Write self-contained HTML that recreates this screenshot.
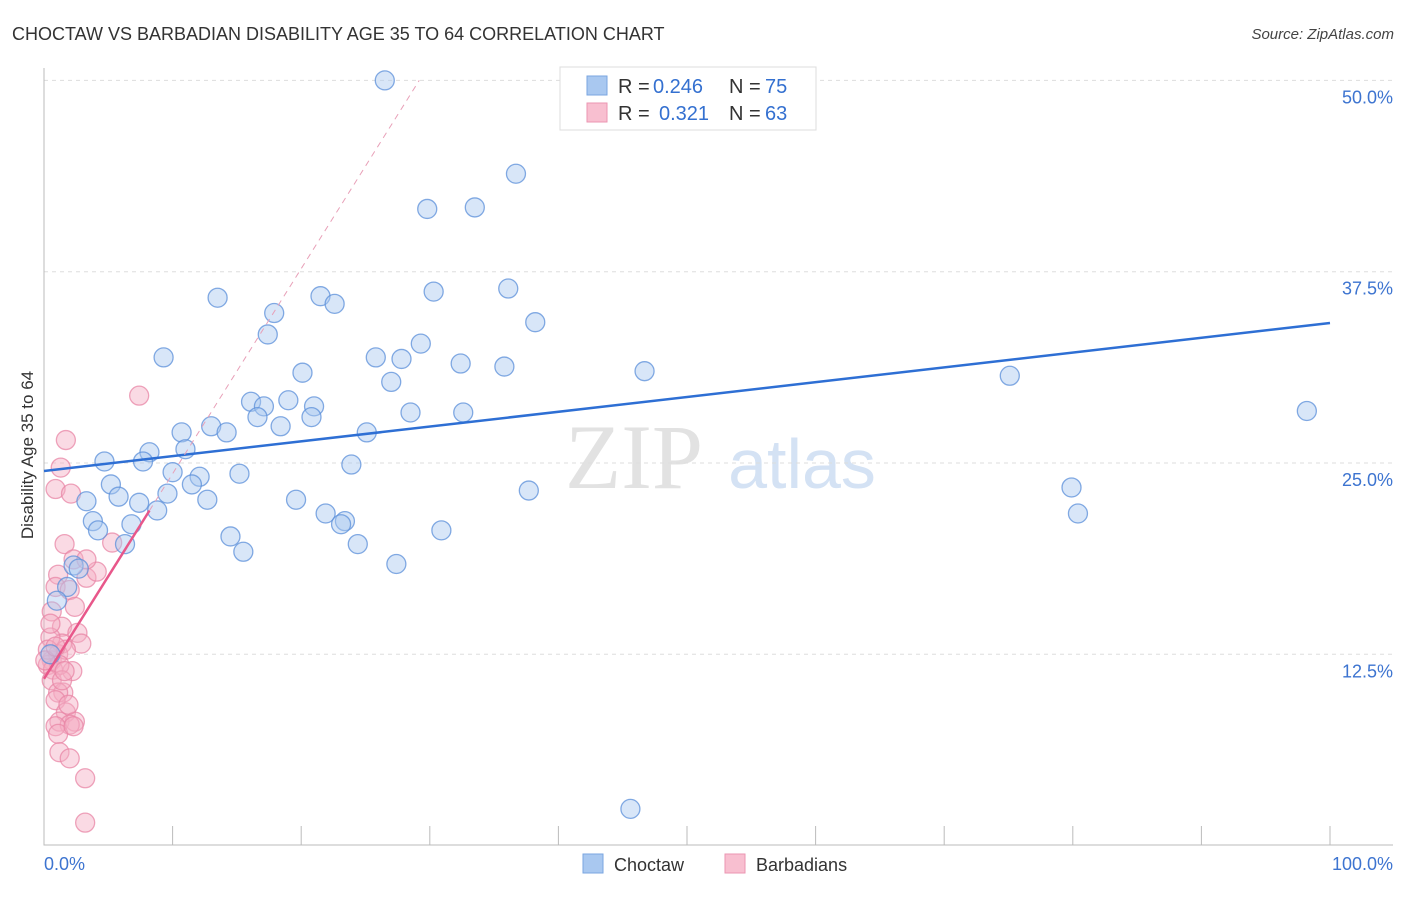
<!DOCTYPE html>
<html><head><meta charset="utf-8"><style>
body{margin:0;background:#fff;font-family:"Liberation Sans",sans-serif}
</style></head><body>
<svg width="1406" height="892" viewBox="0 0 1406 892" xmlns="http://www.w3.org/2000/svg" font-family="Liberation Sans, sans-serif">
<text x="12" y="40" font-size="18" fill="#333">CHOCTAW VS BARBADIAN DISABILITY AGE 35 TO 64 CORRELATION CHART</text>
<text x="1394" y="39" font-size="15" fill="#444" text-anchor="end" font-style="italic">Source: ZipAtlas.com</text>
<g>
<text x="634" y="488" font-size="92" font-family="Liberation Serif, serif" fill="#e2e2e2" text-anchor="middle">ZIP</text>
<text x="802" y="488" font-size="70" fill="#d4e2f4" text-anchor="middle">atlas</text>
</g>
<g id="grid"></g>
<g id="axes"></g>
<g id="marks"></g>
<g>
<rect x="560" y="67" width="256" height="63" fill="#fff" stroke="#ddd"/>
<rect x="587" y="76" width="20" height="19" fill="#a9c8f0" stroke="#7aa6e0"/>
<rect x="587" y="103" width="20" height="19" fill="#f8bfd0" stroke="#eb96b2"/>
<text x="618" y="93" font-size="20" fill="#333">R =</text>
<text x="653" y="93" font-size="20" fill="#3470d0">0.246</text>
<text x="729" y="93" font-size="20" fill="#333">N =</text>
<text x="765" y="93" font-size="20" fill="#3470d0">75</text>
<text x="618" y="120" font-size="20" fill="#333">R =</text>
<text x="659" y="120" font-size="20" fill="#3470d0">0.321</text>
<text x="729" y="120" font-size="20" fill="#333">N =</text>
<text x="765" y="120" font-size="20" fill="#3470d0">63</text>
</g>
<text transform="translate(33,455) rotate(-90)" font-size="17" fill="#333" text-anchor="middle">Disability Age 35 to 64</text>
<text x="44" y="870" font-size="18" fill="#3d74d0">0.0%</text>
<text x="1393" y="870" font-size="18" fill="#3d74d0" text-anchor="end">100.0%</text>
<g>
<rect x="583" y="854" width="20" height="19" fill="#a9c8f0" stroke="#7aa6e0"/>
<text x="614" y="871" font-size="18" fill="#333">Choctaw</text>
<rect x="725" y="854" width="20" height="19" fill="#f8bfd0" stroke="#eb96b2"/>
<text x="756" y="871" font-size="18" fill="#333">Barbadians</text>
</g>
</svg>
<script>
const yTicks=[12.5,25,37.5,50];
const yTickLabels=["12.5%","25.0%","37.5%","50.0%"];
const xTicks=[0,10,20,30,40,50,60,70,80,90,100];
const choctawX=[26.5,36.7,29.8,33.5,13.5,21.5,22.6,30.3,36.1,17.9,38.2,17.4,29.3,9.3,25.8,27.8,32.4,35.8,20.1,46.7,27.0,75.1,16.1,17.1,19.0,21.0,28.5,32.6,98.2,16.6,20.8,13.0,18.4,10.7,14.2,25.1,8.2,11.0,4.7,7.7,23.9,10.0,12.1,15.2,5.2,11.5,3.3,5.8,7.4,9.6,12.7,19.6,37.7,79.9,8.8,3.8,6.8,21.9,23.4,23.1,80.4,4.2,30.9,14.5,6.3,24.4,15.5,27.4,2.3,2.7,1.8,1.0,0.5,45.6];
const choctawY=[50.0,43.9,41.6,41.7,35.8,35.9,35.4,36.2,36.4,34.8,34.2,33.4,32.8,31.9,31.9,31.8,31.5,31.3,30.9,31.0,30.3,30.7,29.0,28.7,29.1,28.7,28.3,28.3,28.4,28.0,28.0,27.4,27.4,27.0,27.0,27.0,25.7,25.9,25.1,25.1,24.9,24.4,24.1,24.3,23.6,23.6,22.5,22.8,22.4,23.0,22.6,22.6,23.2,23.4,21.9,21.2,21.0,21.7,21.2,21.0,21.7,20.6,20.6,20.2,19.7,19.7,19.2,18.4,18.3,18.1,16.9,16.0,12.5,2.4];
const barbX=[7.4,1.7,1.3,0.9,2.1,1.6,2.3,1.1,3.3,4.1,5.3,3.3,0.9,2.0,0.6,2.4,1.4,2.6,2.9,1.4,0.5,0.6,1.1,1.7,0.3,0.7,2.2,1.2,0.6,1.5,1.1,0.9,1.7,1.2,2.4,2.0,0.9,1.1,2.3,1.2,2.0,3.2,3.2,0.3,0.1,0.9,1.4,1.9,0.5,1.6];
const barbY=[29.4,26.5,24.7,23.3,23.0,19.7,18.7,17.7,17.5,17.9,19.8,18.7,16.9,16.7,15.3,15.6,14.3,13.9,13.2,13.2,13.6,12.1,12.5,12.8,11.8,11.5,11.4,11.8,10.8,10.0,10.0,9.5,8.7,8.1,8.1,7.9,7.8,7.3,7.8,6.1,5.7,4.4,1.5,12.8,12.1,13.0,10.8,9.2,14.5,11.4];
const choctawTrend=[24.48,34.15];
const barbTrend=[10.9,1.34,8.2,29.4];
const NS="http://www.w3.org/2000/svg";
const xs=v=>44+v*12.86, ys=v=>845.6-v*15.304;
function mk(p,t,a){const e=document.createElementNS(NS,t);for(const k in a)e.setAttribute(k,a[k]);p.appendChild(e);return e;}
const grid=document.getElementById('grid'),axes=document.getElementById('axes'),marks=document.getElementById('marks');
yTicks.forEach((t,i)=>{const l=mk(grid,'line',{x1:44,x2:1393,y1:ys(t),y2:ys(t),stroke:'#ddd','stroke-dasharray':'4,4'});


const tx=mk(grid,'text',{x:1393,y:ys(t)+23,'font-size':18,fill:'#3d74d0','text-anchor':'end'});tx.textContent=yTickLabels[i];

});
const ax=mk(axes,'path',{d:'M44 68V845H1393',fill:'none',stroke:'#bbb'});


xTicks.forEach(t=>{const l=mk(axes,'line',{x1:xs(t),x2:xs(t),y1:826,y2:845,stroke:'#bbb'});

});
function pts(X,Y,fill,stroke,name){X.forEach((x,i)=>{const c=mk(marks,'circle',{cx:xs(x),cy:ys(Y[i]),r:9.5,fill:fill,'fill-opacity':0.45,stroke:stroke,'stroke-width':1.3,'stroke-opacity':0.75});

});}
pts(barbX,barbY,'#f4aec4','#e885a6','barbadians-point');
pts(choctawX,choctawY,'#a9c8f0','#5b8fd9','choctaw-point');
const bl=mk(marks,'line',{x1:xs(0),y1:ys(choctawTrend[0]),x2:xs(100),y2:ys(choctawTrend[1]),stroke:'#2e6fd4','stroke-width':2.5});


const py=x=>barbTrend[0]+barbTrend[1]*x;
const xe=(50-barbTrend[0])/barbTrend[1];
const pd=mk(marks,'line',{x1:xs(barbTrend[2]),y1:ys(py(barbTrend[2])),x2:xs(xe),y2:ys(50),stroke:'#e8a0b8','stroke-width':1,'stroke-dasharray':'6,5'});


const pl=mk(marks,'line',{x1:xs(0),y1:ys(py(0)),x2:xs(barbTrend[2]),y2:ys(py(barbTrend[2])),stroke:'#e8578a','stroke-width':2.5});


</script>
</body></html>
